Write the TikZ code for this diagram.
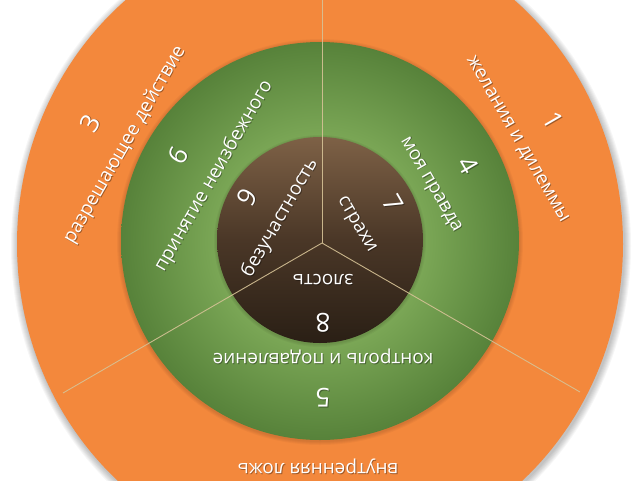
\documentclass[tikz,border=0pt]{standalone}
\usepackage{fontspec}
\setmainfont{Open Sans}
\usetikzlibrary{calc}
\definecolor{orng}{HTML}{F3883C}
\definecolor{gIn}{HTML}{7BA756}
\definecolor{gOut}{HTML}{57823A}
\definecolor{bTop}{HTML}{7E6146}
\definecolor{bMid}{HTML}{4A3727}
\definecolor{bBot}{HTML}{2A1F15}
\definecolor{sepline}{HTML}{D6C296}
\pgfdeclareradialshading{greenring}{\pgfpoint{0bp}{0bp}}{color(0bp)=(gIn); color(13bp)=(gIn); color(25bp)=(gOut); color(50bp)=(gOut)}
\tikzset{
  txt/.style={text=white, inner sep=0pt, font=\fontsize{19}{22}\selectfont},
  digit/.style={font=\fontsize{26}{30}\selectfont},
  sep/.style={draw=sepline, line width=0.9pt, opacity=0.9},
}
\newcommand\mylab[5]{%
  \node[txt,#4,text=black,opacity=0.35,rotate=#3] at ($(#2)+(0.9,0.9)$) {#5};
  \node[txt,#4,rotate=#3] (#1) at (#2) {#5};}
\begin{document}
\begin{tikzpicture}[x=1pt,y=-1pt]
\useasboundingbox (0,0) rectangle (640,480);
\fill[white] (0,0) rectangle (640,480);
\clip (0,0) rectangle (640,480);
% orange outer disc with soft shadow
\foreach \i in {1,...,7}{
  \fill[black,opacity=0.035] (321,246) ellipse ({303+\i} and {318+\i});
}
\fill[orng] (320,244) ellipse (303 and 318);
% shadow of green disc
\foreach \i in {1,...,4}{
  \fill[black,opacity=0.03] (320,242) circle ({199+\i});
}
\shade[shading=greenring] (320,241) circle (199);
% brown disc
\foreach \i in {1,...,3}{
  \fill[black,opacity=0.04] (320,241) circle ({103+\i});
}
\shade[top color=bTop, bottom color=bBot, middle color=bMid] (320,240) circle (103);
% separators
\coordinate (c) at (322,243);
\coordinate (eTop) at (322,0);
\coordinate (eR) at (580,392);
\coordinate (eL) at (63,393);
\draw[sep] (c) -- (eTop);
\draw[sep] (c) -- (eR);
\draw[sep] (c) -- (eL);
% right sector
\mylab{n1}{553,120}{-60}{digit}{1}
\mylab{t1}{517,140}{-60}{}{желания и дилеммы}
\mylab{n4}{468,165}{-60}{digit}{4}
\mylab{t4}{430,185}{-60}{}{моя правда}
\mylab{n7}{393,203}{-60}{digit}{7}
\mylab{t7}{356,225}{-60}{}{страхи}
% left sector
\mylab{n3}{90,123}{60}{digit}{3}
\mylab{t3}{125,145}{60}{}{разрешающее действие}
\mylab{n6}{178,155}{60}{digit}{6}
\mylab{t6}{214,176}{60}{}{принятие неизбежного}
\mylab{n9}{247,197}{60}{digit}{9}
\mylab{t9}{280,218}{60}{}{безучастность}
% bottom sector
\mylab{t8}{323,280}{180}{}{злость}
\mylab{n8}{323,323}{180}{digit}{8}
\mylab{t5}{323,356}{180}{}{контроль и подавление}
\mylab{n5}{323,398}{180}{digit}{5}
\mylab{t2}{318,466}{180}{}{внутренняя ложь}
\end{tikzpicture}
\end{document}
